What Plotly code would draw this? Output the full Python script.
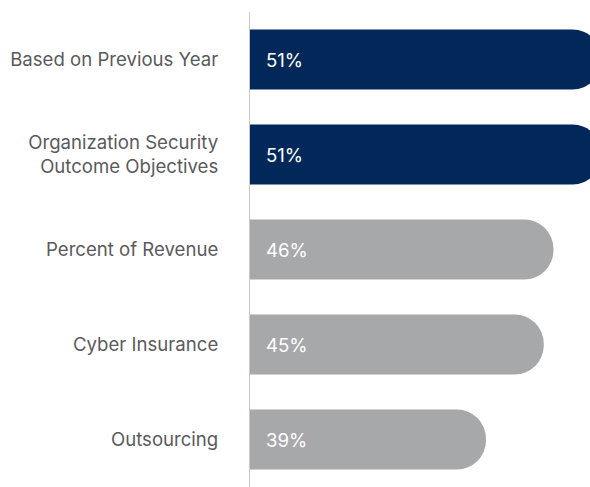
import plotly.graph_objects as go

# Budget basis categories (top to bottom) and share of respondents (%)
categories = [
    "Based on Previous Year",
    "Organization Security<br>Outcome Objectives",
    "Percent of Revenue",
    "Cyber Insurance",
    "Outsourcing",
]
values = [51, 51, 46, 45, 39]
bar_colors = ["#02285a", "#02285a", "#a7a8aa", "#a7a8aa", "#a7a8aa"]
value_labels = [f"{v}%" for v in values]

FONT = "Inter"
SIZE = 18.6

fig = go.Figure(
    go.Bar(
        x=values,
        y=categories,
        orientation="h",
        marker=dict(color=bar_colors, line=dict(width=0)),
        hoverinfo="skip",
    )
)

# Value labels sit just inside the left end of each bar
for cat, lab in zip(categories, value_labels):
    fig.add_annotation(
        x=0, xref="x domain", y=cat, yref="y",
        text=lab, showarrow=False,
        xanchor="left", xshift=14,
        font=dict(family=FONT, size=SIZE, color="#ffffff"),
    )

fig.update_layout(
    width=590, height=487,
    margin=dict(l=250, r=0, t=12, b=0),
    paper_bgcolor="#ffffff",
    plot_bgcolor="#ffffff",
    showlegend=False,
    bargap=0.37,
    barcornerradius=30,
    font=dict(family=FONT, size=SIZE, color="#5a5a5c"),
)
fig.update_xaxes(
    range=[14.5, 49.8],
    visible=False,
    showgrid=False,
    zeroline=False,
)
fig.update_yaxes(
    autorange="reversed",
    showgrid=False,
    zeroline=False,
    showline=True,
    linecolor="#c8c8c8",
    linewidth=1,
    ticks="",
    ticklabelstandoff=27,
    tickfont=dict(family=FONT, size=SIZE, color="#5a5a5c"),
)

fig.write_html("out.html")
